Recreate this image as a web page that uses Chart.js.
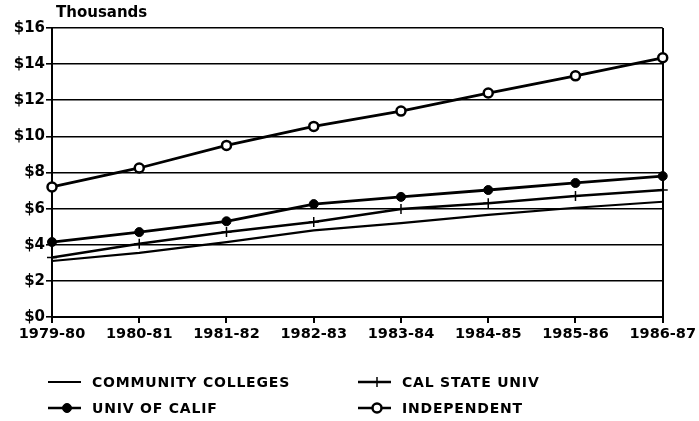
<!DOCTYPE html>
<html>
<head>
<meta charset="utf-8">
<script src="https://cdn.jsdelivr.net/npm/chart.js@4/dist/chart.umd.min.js"></script>
<style>
html,body{margin:0;padding:0;background:#fff;}
#wrap{width:699px;height:421px;position:relative;}
</style>
</head>
<body>
<div id="wrap"><canvas id="c" width="699" height="421"></canvas></div>
<script>
const categories = ["1979-80","1980-81","1981-82","1982-83","1983-84","1984-85","1985-86","1986-87"];
const communityColleges = [3.1, 3.55, 4.15, 4.8, 5.2, 5.65, 6.05, 6.38];
const calStateUniv = [3.3, 4.05, 4.7, 5.26, 5.98, 6.3, 6.7, 7.03];
const univOfCalif = [4.15, 4.7, 5.3, 6.25, 6.65, 7.03, 7.42, 7.8];
const independent = [7.2, 8.25, 9.5, 10.55, 11.4, 12.4, 13.35, 14.35];
const yTicks = [0, 2, 4, 6, 8, 10, 12, 14, 16];
const unitLabel = "Thousands";
const legendLabels = ["COMMUNITY COLLEGES", "CAL STATE UNIV", "UNIV OF CALIF", "INDEPENDENT"];

const FONT = "DejaVu Sans";
const legendSlots = [
  {x: 48, y: 382}, {x: 358, y: 382}, {x: 48, y: 408}, {x: 358, y: 408}
];

const legendPlugin = {
  id: 'customLegend',
  afterDraw(chart) {
    const ctx = chart.ctx;
    ctx.save();
    ctx.fillStyle = '#000';
    ctx.font = 'bold 15px "' + FONT + '"';
    ctx.textAlign = 'left';
    ctx.textBaseline = 'middle';
    ctx.fillText(unitLabel, 56, 13);
    [0, 1, 2, 3].forEach((di, i) => {
      const ds = chart.data.datasets[di];
      const s = legendSlots[i];
      ctx.strokeStyle = '#000';
      ctx.lineWidth = di === 0 ? 1.8 : 2.5;
      ctx.beginPath();
      ctx.moveTo(s.x, s.y);
      ctx.lineTo(s.x + 33, s.y);
      ctx.stroke();
      const cx = s.x + 19;
      if (ds.pointStyle === 'cross' && ds.pointRadius > 0) {
        ctx.lineWidth = 1.5;
        ctx.beginPath();
        ctx.moveTo(cx, s.y - 5); ctx.lineTo(cx, s.y + 5);
        ctx.stroke();
      } else if (ds.pointRadius > 0) {
        ctx.beginPath();
        ctx.arc(cx, s.y, ds.pointRadius, 0, Math.PI * 2);
        ctx.fillStyle = ds.pointBackgroundColor;
        ctx.fill();
        ctx.lineWidth = ds.pointBorderWidth;
        ctx.stroke();
      }
      ctx.fillStyle = '#000';
      ctx.font = 'bold 14px "' + FONT + '"';
      try { ctx.letterSpacing = '0.8px'; } catch (e) {}
      ctx.textBaseline = 'middle';
      ctx.fillText(legendLabels[di], s.x + 44, s.y + 1);
      try { ctx.letterSpacing = '0px'; } catch (e) {}
    });
    ctx.restore();
  }
};

new Chart(document.getElementById('c'), {
  type: 'line',
  data: {
    labels: categories,
    datasets: [
      {label: legendLabels[0], data: communityColleges, borderColor: '#000', borderWidth: 2.2, pointRadius: 0, pointBackgroundColor: '#000', pointBorderWidth: 0, tension: 0},
      {label: legendLabels[1], data: calStateUniv, borderColor: '#000', borderWidth: 2.5, pointStyle: 'cross', pointRadius: 5, pointBorderColor: '#000', pointBackgroundColor: '#000', pointBorderWidth: 1.5, tension: 0},
      {label: legendLabels[2], data: univOfCalif, borderColor: '#000', borderWidth: 2.8, pointStyle: 'circle', pointRadius: 4.5, pointBackgroundColor: '#000', pointBorderColor: '#000', pointBorderWidth: 1, tension: 0},
      {label: legendLabels[3], data: independent, borderColor: '#000', borderWidth: 2.8, pointStyle: 'circle', pointRadius: 4.5, pointBackgroundColor: '#fff', pointBorderColor: '#000', pointBorderWidth: 2.5, tension: 0}
    ]
  },
  options: {
    responsive: false,
    animation: false,
    layout: {padding: {left: 0, right: 36, top: 28, bottom: 0}},
    plugins: {legend: {display: false}, tooltip: {enabled: false}, title: {display: false}},
    scales: {
      x: {
        offset: false,
        grid: {
          color: (c) => (c.index === categories.length - 1 ? '#000' : 'rgba(0,0,0,0)'),
          lineWidth: 2,
          tickColor: '#000',
          tickLength: 6,
          drawTicks: true
        },
        border: {color: '#000', width: 2},
        ticks: {color: '#000', font: {family: FONT, weight: 'bold', size: 14.5}, padding: 3, maxRotation: 0, autoSkip: false},
        afterFit: (s) => { s.height = 104; }
      },
      y: {
        min: 0, max: 16,
        afterBuildTicks: (s) => { s.ticks = yTicks.map(v => ({value: v})); },
        grid: {color: '#000', lineWidth: 1.6, tickColor: '#000', tickLength: 6},
        border: {color: '#000', width: 2},
        ticks: {color: '#000', font: {family: FONT, weight: 'bold', size: 15}, padding: 1, callback: (v) => '$' + v},
        afterFit: (s) => { s.width = 52; }
      }
    }
  },
  plugins: [legendPlugin]
});
</script>
</body>
</html>
